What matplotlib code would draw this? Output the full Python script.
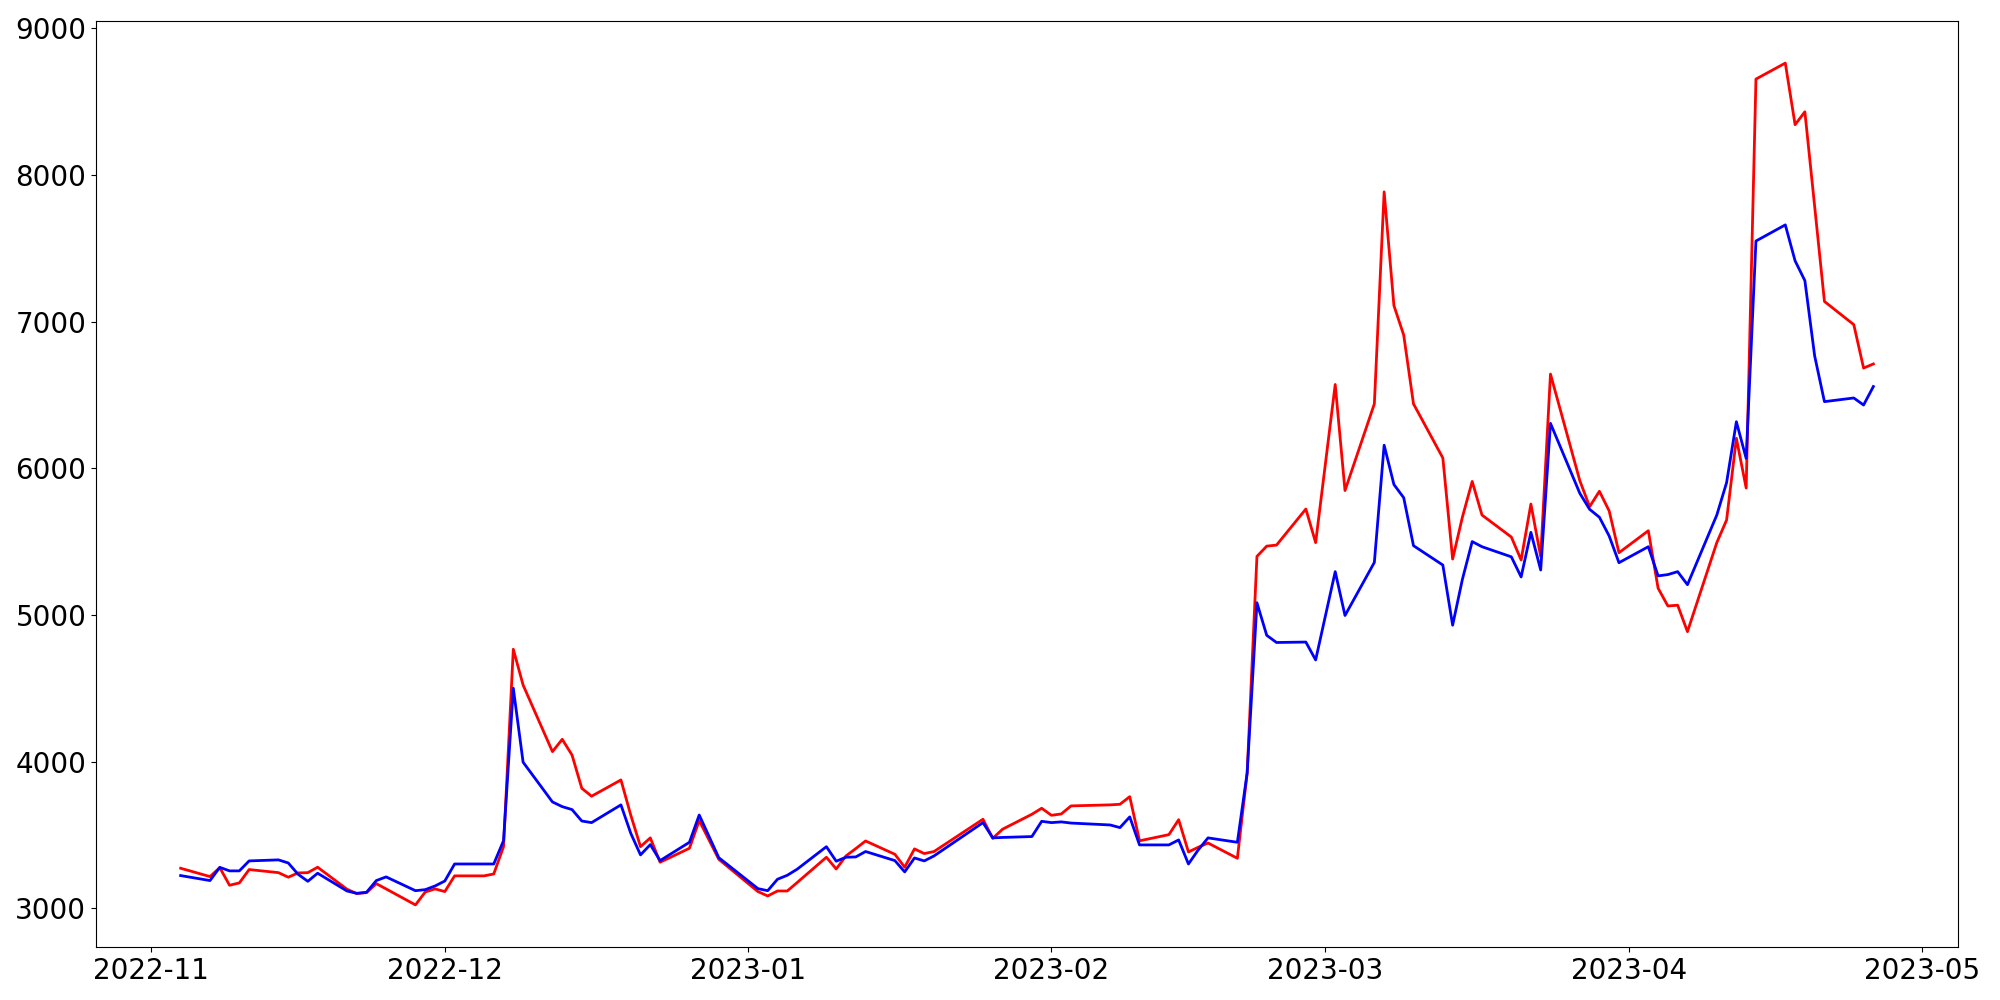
import matplotlib
matplotlib.use("Agg")
import matplotlib.pyplot as plt
import pandas as pd

dates = [
    "2022-11-04", "2022-11-07", "2022-11-08", "2022-11-09", "2022-11-10", "2022-11-11",
    "2022-11-14", "2022-11-15", "2022-11-16", "2022-11-17", "2022-11-18",
    "2022-11-21", "2022-11-22", "2022-11-23", "2022-11-24", "2022-11-25",
    "2022-11-28", "2022-11-29", "2022-11-30", "2022-12-01", "2022-12-02",
    "2022-12-05", "2022-12-06", "2022-12-07", "2022-12-08", "2022-12-09",
    "2022-12-12", "2022-12-13", "2022-12-14", "2022-12-15", "2022-12-16",
    "2022-12-19", "2022-12-20", "2022-12-21", "2022-12-22", "2022-12-23",
    "2022-12-26", "2022-12-27", "2022-12-29",
    "2023-01-02", "2023-01-03", "2023-01-04", "2023-01-05", "2023-01-06",
    "2023-01-09", "2023-01-10", "2023-01-11", "2023-01-12", "2023-01-13",
    "2023-01-16", "2023-01-17", "2023-01-18", "2023-01-19", "2023-01-20",
    "2023-01-25", "2023-01-26", "2023-01-27",
    "2023-01-30", "2023-01-31", "2023-02-01", "2023-02-02", "2023-02-03",
    "2023-02-07", "2023-02-08", "2023-02-09", "2023-02-10",
    "2023-02-13", "2023-02-14", "2023-02-15", "2023-02-16", "2023-02-17",
    "2023-02-20", "2023-02-21", "2023-02-22", "2023-02-23", "2023-02-24",
    "2023-02-27", "2023-02-28", "2023-03-02", "2023-03-03",
    "2023-03-06", "2023-03-07", "2023-03-08", "2023-03-09", "2023-03-10",
    "2023-03-13", "2023-03-14", "2023-03-15", "2023-03-16", "2023-03-17",
    "2023-03-20", "2023-03-21", "2023-03-22", "2023-03-23", "2023-03-24",
    "2023-03-27", "2023-03-28", "2023-03-29", "2023-03-30", "2023-03-31",
    "2023-04-03", "2023-04-04", "2023-04-05", "2023-04-06", "2023-04-07",
    "2023-04-10", "2023-04-11", "2023-04-12", "2023-04-13", "2023-04-14",
    "2023-04-17", "2023-04-18", "2023-04-19", "2023-04-20", "2023-04-21",
    "2023-04-24", "2023-04-25", "2023-04-26",
]

red_values = [
    3274, 3217, 3278, 3158, 3174, 3265,
    3244, 3213, 3242, 3244, 3281,
    3131, 3101, 3108, 3169, 3133,
    3024, 3112, 3133, 3115, 3222,
    3222, 3235, 3421, 4767, 4523,
    4069, 4153, 4046, 3819, 3765,
    3876, 3637, 3421, 3481, 3315,
    3410, 3599, 3335,
    3115, 3085, 3119, 3119, 3176,
    3349, 3269, 3358, 3408, 3460,
    3369, 3281, 3406, 3374, 3388,
    3608, 3478, 3540,
    3642, 3683, 3635, 3644, 3699,
    3706, 3710, 3762, 3461,
    3503, 3605, 3385, 3417, 3446,
    3342, 3923, 5400, 5470, 5477,
    5723, 5494, 6572, 5849,
    6440, 7885, 7110, 6909, 6440,
    6071, 5382, 5668, 5911, 5682,
    5532, 5376, 5757, 5398, 6643,
    5916, 5739, 5844, 5710, 5425,
    5575, 5183, 5062, 5067, 4887,
    5494, 5648, 6205, 5866, 8654,
    8763, 8343, 8431, 7786, 7138,
    6980, 6684, 6712,
]

blue_values = [
    3224, 3190, 3280, 3256, 3256, 3324,
    3331, 3310, 3233, 3185, 3240,
    3119, 3103, 3110, 3190, 3215,
    3121, 3128, 3153, 3187, 3303,
    3303, 3303, 3462, 4501, 3997,
    3726, 3694, 3674, 3596, 3585,
    3706, 3513, 3365, 3435, 3326,
    3451, 3637, 3346,
    3135, 3121, 3199, 3226, 3267,
    3421, 3322, 3349, 3351, 3388,
    3326, 3249, 3344, 3324, 3358,
    3585, 3481, 3484,
    3490, 3594, 3585, 3590, 3582,
    3569, 3551, 3624, 3433,
    3433, 3467, 3303, 3399, 3481,
    3451, 3923, 5084, 4862, 4813,
    4816, 4694, 5296, 4997,
    5359, 6158, 5890, 5800, 5473,
    5341, 4931, 5244, 5501, 5466,
    5397, 5260, 5564, 5307, 6307,
    5830, 5721, 5667, 5539, 5357,
    5466, 5267, 5276, 5296, 5207,
    5682, 5903, 6318, 6068, 7550,
    7660, 7415, 7280, 6767, 6455,
    6480, 6432, 6558,
]

x = pd.to_datetime(dates)

fig = plt.figure(figsize=(20, 10), dpi=100)
ax = fig.add_axes([0.048, 0.053, 0.931, 0.926])
ax.plot(x, red_values, color="red", linewidth=2)
ax.plot(x, blue_values, color="blue", linewidth=2)
ax.tick_params(axis="both", labelsize=20)
fig.savefig("out.png", dpi=100)
